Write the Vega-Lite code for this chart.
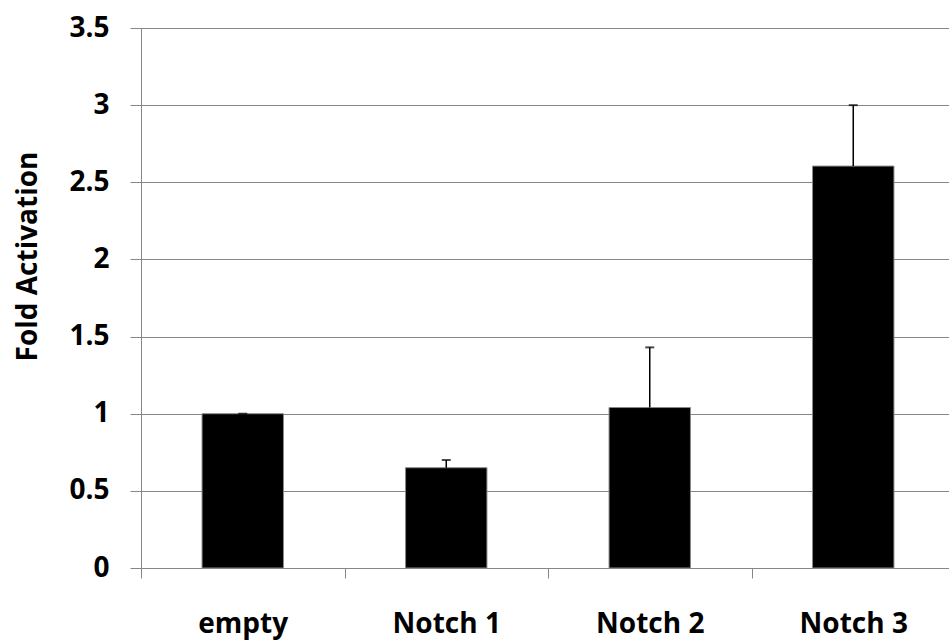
{
  "$schema": "https://vega.github.io/schema/vega-lite/v6.json",
  "autosize": "none",
  "width": 808,
  "height": 540,
  "padding": {"left": 141, "top": 28, "right": 0, "bottom": 73},
  "background": "white",
  "config": {
    "view": {"stroke": null},
    "font": "Open Sans"
  },
  "data": {
    "values": [
      {"group": "empty", "value": 1.0, "upper": 1.0},
      {"group": "Notch 1", "value": 0.65, "upper": 0.70},
      {"group": "Notch 2", "value": 1.04, "upper": 1.43},
      {"group": "Notch 3", "value": 2.605, "upper": 3.0}
    ]
  },
  "encoding": {
    "x": {
      "field": "group",
      "type": "nominal",
      "sort": null,
      "title": null,
      "scale": {"range": [0, 814], "paddingInner": 0, "paddingOuter": 0},
      "axis": {
        "labelAngle": 0,
        "labelFont": "Open Sans",
        "labelFontSize": 28,
        "labelFontWeight": "bold",
        "labelColor": "black",
        "labelBaseline": "alphabetic",
        "labelPadding": 54,
        "tickBand": "extent",
        "tickSize": 10,
        "tickColor": "#868686",
        "domainColor": "#868686",
        "grid": false
      }
    }
  },
  "layer": [
    {
      "mark": {"type": "bar", "color": "black", "stroke": "#888888", "strokeWidth": 1, "width": {"band": 0.4}},
      "encoding": {
        "y": {
          "field": "value",
          "type": "quantitative",
          "title": "Fold Activation",
          "scale": {"domain": [0, 3.5], "nice": false},
          "axis": {
            "values": [0, 0.5, 1, 1.5, 2, 2.5, 3, 3.5],
            "format": "~g",
            "labelFont": "Open Sans",
            "labelFontSize": 28,
            "labelFontWeight": "bold",
            "labelColor": "black",
            "labelPadding": 21,
            "tickSize": 11,
            "tickColor": "#868686",
            "domainColor": "#868686",
            "gridColor": "#868686",
            "gridWidth": 1,
            "titleFont": "Open Sans",
            "titleFontSize": 28,
            "titleFontWeight": "bold",
            "titleColor": "black",
            "titleAngle": -90,
            "titleAlign": "center",
            "titleBaseline": "alphabetic",
            "titleX": -105,
            "titleY": 228
          }
        }
      }
    },
    {
      "mark": {"type": "rule", "color": "black", "strokeWidth": 1.5},
      "encoding": {
        "y": {"field": "value", "type": "quantitative"},
        "y2": {"field": "upper"}
      }
    },
    {
      "mark": {"type": "tick", "color": "black", "size": 9, "thickness": 2},
      "encoding": {
        "y": {"field": "upper", "type": "quantitative"}
      }
    }
  ]
}
